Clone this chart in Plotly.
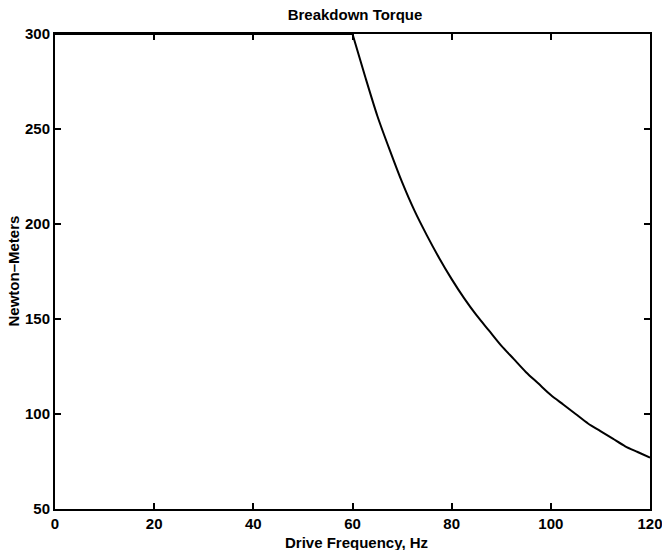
import plotly.graph_objects as go

# Data
freq_hz = [0, 60, 62.5, 65, 67.5, 70, 72.5, 75, 77.5, 80, 82.5, 85, 87.5, 90,
           92.5, 95, 97.5, 100, 102.5, 105, 107.5, 110, 112.5, 115, 117.5, 120]
torque_nm = [300, 300, 278, 257, 239, 222, 207, 194, 182, 171, 161, 152, 144, 136,
             129, 122, 116, 110, 105, 100, 95, 91, 87, 83, 80, 77]

x_ticks = [0, 20, 40, 60, 80, 100, 120]
y_ticks = [50, 100, 150, 200, 250, 300]

title_text = "Breakdown Torque"
x_title = "Drive Frequency, Hz"
y_title = "Newton\u2013Meters"

font_family = "Liberation Sans, Arial, sans-serif"
fs = 15

fig = go.Figure()
# constant-torque region (flat at the cap)
fig.add_trace(go.Scatter(
    x=freq_hz[:2], y=torque_nm[:2], mode="lines",
    line=dict(color="black", width=2),
    showlegend=False, hoverinfo="skip",
))
# field-weakening region
fig.add_trace(go.Scatter(
    x=freq_hz[1:], y=torque_nm[1:], mode="lines",
    line=dict(color="black", width=2, shape="spline", smoothing=0.8),
    showlegend=False, hoverinfo="skip",
))

axis_common = dict(
    showgrid=False, zeroline=False,
    showline=True, linecolor="black", linewidth=2,
    mirror="ticks", ticks="inside", ticklen=6, tickwidth=1.5, tickcolor="black",
    tickfont=dict(family=font_family, size=fs, color="black"),
    ticklabeloverflow="allow",
    automargin=False,
)

fig.update_layout(
    width=662, height=550,
    margin=dict(l=55, r=12, t=34, b=41, autoexpand=False),
    paper_bgcolor="white", plot_bgcolor="white",
    title=dict(text=f"<b>{title_text}</b>", x=355 / 662, xanchor="center",
               y=1 - 15 / 550, yanchor="middle", yref="container",
               font=dict(family=font_family, size=fs, color="black")),
    xaxis=dict(range=[0, 120], tickvals=x_ticks,
               ticktext=[f"<b>{v}</b>" for v in x_ticks], **axis_common),
    yaxis=dict(range=[50, 300], tickvals=y_ticks,
               ticktext=[f"<b>{v}</b>" for v in y_ticks], **axis_common),
    annotations=[
        dict(text=f"<b>{x_title}</b>", xref="paper", yref="paper", x=0.5, y=0,
             xanchor="center", yanchor="middle", xshift=4, yshift=-33,
             showarrow=False, font=dict(family=font_family, size=fs, color="black")),
        dict(text=f"<b>{y_title}</b>", xref="paper", yref="paper", x=0, y=0.5,
             xanchor="center", yanchor="middle", xshift=-42, textangle=-90,
             showarrow=False, font=dict(family=font_family, size=fs, color="black")),
    ],
)

fig.write_html("out.html", config={"displayModeBar": False},
               post_script="document.body.style.margin='0';document.body.style.overflow='hidden';")
